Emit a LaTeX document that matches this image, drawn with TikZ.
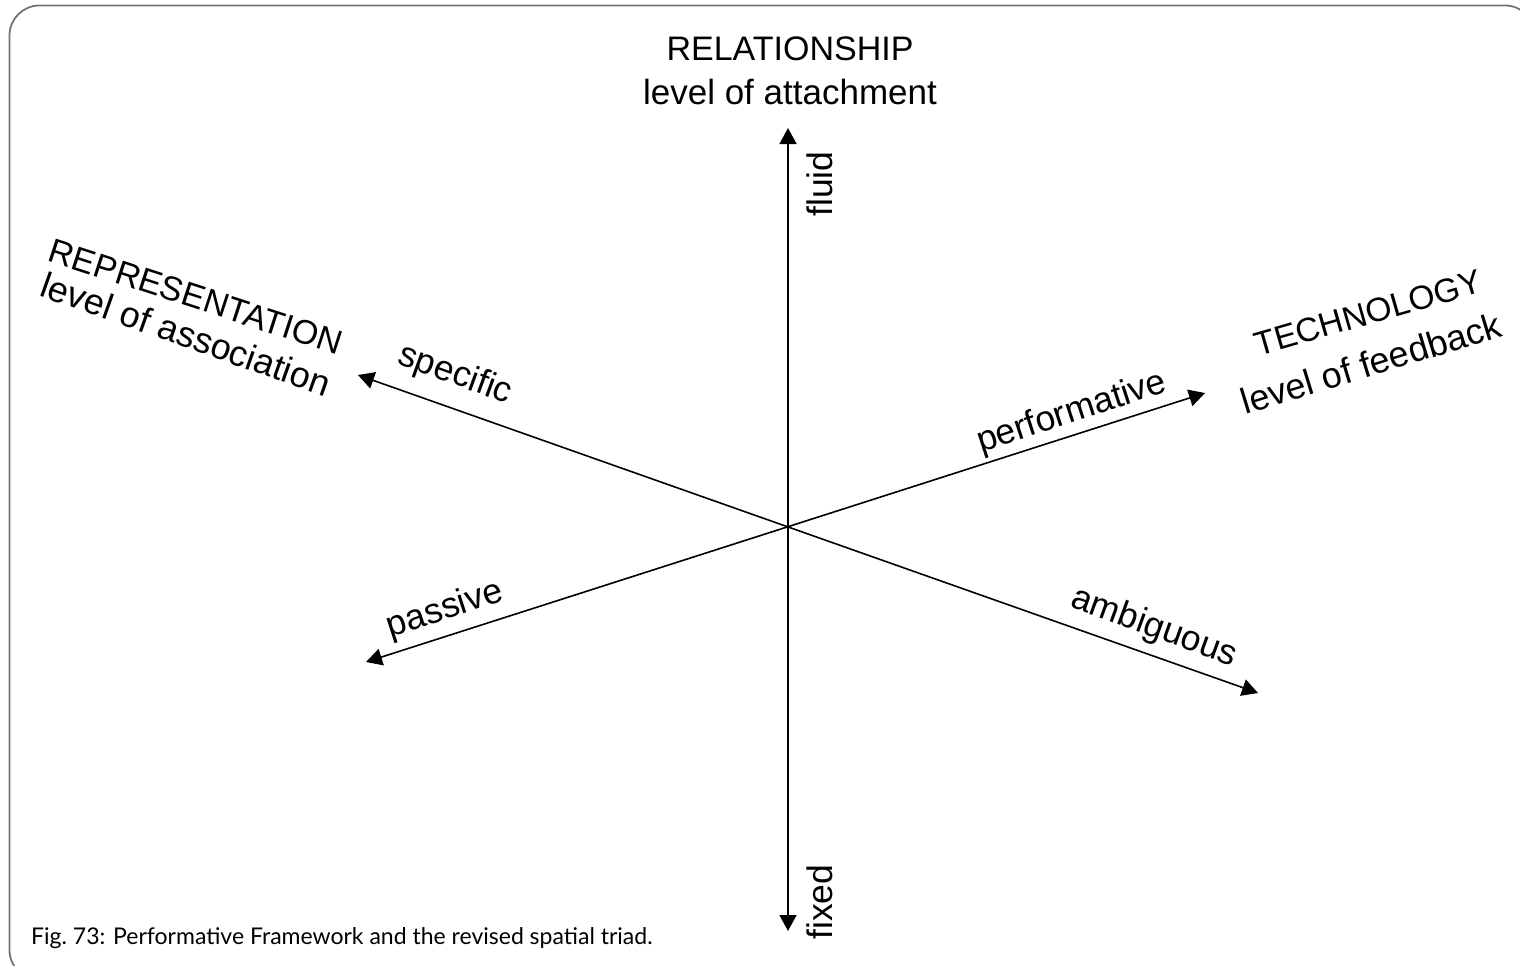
\documentclass[tikz,border=0pt]{standalone}
\usepackage{fontspec}
\setmainfont{Liberation Sans}
\newfontfamily\capfont{Lato}
\usetikzlibrary{arrows.meta}
\begin{document}
\begin{tikzpicture}[x=1pt,y=-1pt,
  tip/.tip={Triangle[length=16pt,width=17pt]},
  axis/.style={line width=1.6pt, tip-tip},
  lbl/.style={font=\fontsize{35.5}{40}\selectfont, inner sep=0pt},
  capsline/.style={font=\fontsize{34}{40}\selectfont, inner sep=0pt},
  lowline/.style={font=\fontsize{36}{40}\selectfont, inner sep=0pt},
  frame/.style={draw=black!55, line width=1.8pt, rounded corners=30pt}]
\useasboundingbox (0,0) rectangle (1520,966);
\clip (0,0) rectangle (1520,966);
% outer frame
\draw[frame] (9.5,5.5) rectangle (1535,980);

% axis end points
\coordinate (O) at (788,527);
\coordinate (fluidEnd) at (788,128);
\coordinate (fixedEnd) at (788,931);
\coordinate (specEnd) at (358,375);
\coordinate (ambEnd) at (1258,693);
\coordinate (passEnd) at (366,662);
\coordinate (perfEnd) at (1205,393);

% the three axes
\draw[axis] (fixedEnd) -- (fluidEnd);
\draw[axis] (ambEnd) -- (specEnd);
\draw[axis] (passEnd) -- (perfEnd);

% axis titles
\node[capsline, anchor=base] (rel1) at (790,60) {RELATIONSHIP};
\node[lowline, font=\fontsize{35}{40}\selectfont, anchor=base] (rel2) at (790,104) {level of attachment};
\node[capsline, rotate=-18] (rep1) at (196,297) {REPRESENTATION};
\node[lowline, rotate=-19.5] (rep2) at (186,334) {level of association};
\node[capsline, font=\fontsize{33.5}{40}\selectfont, rotate=16] (tech1) at (1368,313) {TECHNOLOGY};
\node[lowline, rotate=17] (tech2) at (1371,363) {level of feedback};

% pole labels
\node[lbl, rotate=90] (fluid) at (820,184) {fluid};
\node[lbl, rotate=90] (fixed) at (820,902) {fixed};
\node[lbl, rotate=-20] (specific) at (455,375) {specific};
\node[lbl, rotate=-20] (ambiguous) at (1154,628) {ambiguous};
\node[lbl, rotate=18] (passive) at (445,610) {passive};
\node[lbl, rotate=18] (performative) at (1072,413) {performative};

% caption
\node[anchor=base west, inner sep=0pt, font=\capfont\fontsize{23}{26}\selectfont] (cap) at (31,944)
  {Fig.~73: Performative Framework and the revised spatial triad.};
\end{tikzpicture}
\end{document}
